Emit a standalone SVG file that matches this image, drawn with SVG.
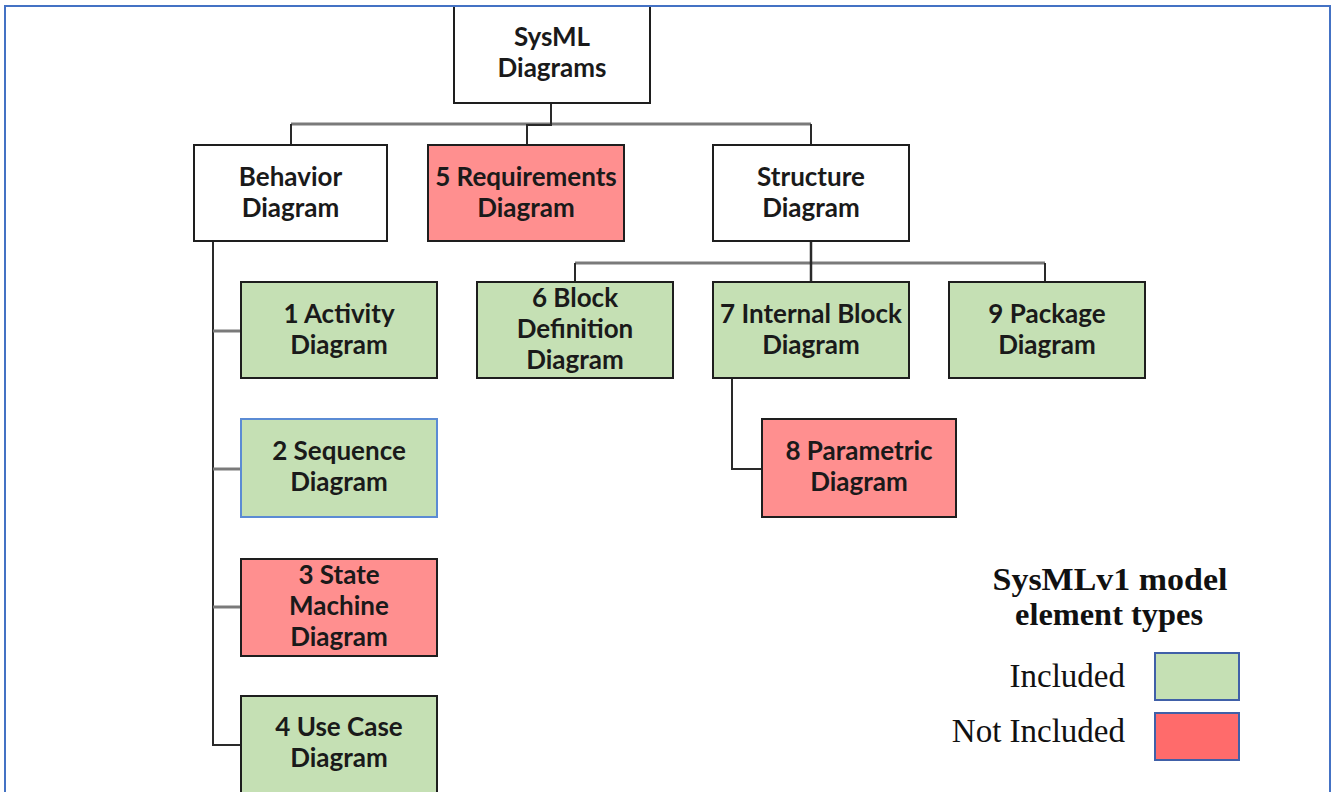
<svg xmlns="http://www.w3.org/2000/svg" width="1332" height="792" viewBox="0 0 1332 792">
<defs>
<style>
.box{stroke:#1e1e1e;stroke-width:2}
.white{fill:#ffffff}
.green{fill:#C5E0B4}
.red{fill:#FF8F8F}
.lbl{font-family:Lato,"Liberation Sans",sans-serif;font-weight:bold;font-size:26px;fill:#1a1a1a;text-anchor:middle}
.dark{fill:none;stroke:#2a2a2a;stroke-width:2}
.gray{fill:none;stroke:#7a7a7a;stroke-width:3}
.legt{font-family:"Liberation Serif","Times New Roman",serif;font-weight:bold;font-size:31px;fill:#111;text-anchor:middle}
.legl{font-family:"Liberation Serif","Times New Roman",serif;font-size:33px;fill:#111;text-anchor:end}
</style>
<clipPath id="titleClip"><rect x="900" y="540" width="400" height="92"/></clipPath>
</defs>
<rect x="0" y="0" width="1332" height="792" fill="#ffffff"/>

<g id="connectors">
<path class="gray" d="M291,124 H811"/>
<path class="dark" d="M291,124 V145"/>
<path class="dark" d="M811,124 V145"/>
<path class="dark" d="M551,103 V125 H527 V145"/>
<path class="gray" d="M575,263 H1045"/>
<path class="dark" d="M575,263 V282"/>
<path class="dark" d="M1045,263 V282"/>
<path class="dark" d="M811,241 V282" style="stroke-width:2.5"/>
<path class="dark" d="M213,241 V745 H241"/>
<path class="gray" d="M213,331 H241"/>
<path class="gray" d="M213,469 H241"/>
<path class="gray" d="M213,607 H241"/>
<path class="dark" d="M732,378 V469 H762"/>
</g>

<g id="sysml">
<rect class="box white" x="454" y="6" width="196" height="97"/>
<text class="lbl" x="552" y="46">SysML</text>
<text class="lbl" x="552" y="77">Diagrams</text>
</g>

<g id="behavior">
<rect class="box white" x="194" y="145" width="193" height="96"/>
<text class="lbl" x="290.5" y="186">Behavior</text>
<text class="lbl" x="290.5" y="217">Diagram</text>
</g>

<g id="requirements">
<rect class="box red" x="428" y="145" width="196" height="96"/>
<text class="lbl" x="526" y="186">5 Requirements</text>
<text class="lbl" x="526" y="217">Diagram</text>
</g>

<g id="structure">
<rect class="box white" x="713" y="145" width="196" height="96"/>
<text class="lbl" x="811" y="186">Structure</text>
<text class="lbl" x="811" y="217">Diagram</text>
</g>

<g id="activity">
<rect class="box green" x="241" y="282" width="196" height="96"/>
<text class="lbl" x="339" y="323">1 Activity</text>
<text class="lbl" x="339" y="354">Diagram</text>
</g>

<g id="block">
<rect class="box green" x="477" y="282" width="196" height="96"/>
<text class="lbl" x="575" y="307">6 Block</text>
<text class="lbl" x="575" y="338">Definition</text>
<text class="lbl" x="575" y="369">Diagram</text>
</g>

<g id="internal">
<rect class="box green" x="713" y="282" width="196" height="96"/>
<text class="lbl" x="811" y="323">7 Internal Block</text>
<text class="lbl" x="811" y="354">Diagram</text>
</g>

<g id="package">
<rect class="box green" x="949" y="282" width="196" height="96"/>
<text class="lbl" x="1047" y="323">9 Package</text>
<text class="lbl" x="1047" y="354">Diagram</text>
</g>

<g id="sequence">
<rect class="green" x="241" y="419" width="196" height="98" style="stroke:#5B8BD4;stroke-width:2"/>
<text class="lbl" x="339" y="460">2 Sequence</text>
<text class="lbl" x="339" y="491">Diagram</text>
</g>

<g id="parametric">
<rect class="box red" x="762" y="419" width="194" height="98"/>
<text class="lbl" x="859" y="460">8 Parametric</text>
<text class="lbl" x="859" y="491">Diagram</text>
</g>

<g id="statemachine">
<rect class="box red" x="241" y="559" width="196" height="97"/>
<text class="lbl" x="339" y="584">3 State</text>
<text class="lbl" x="339" y="615">Machine</text>
<text class="lbl" x="339" y="646">Diagram</text>
</g>

<g id="usecase">
<rect class="box green" x="241" y="696" width="196" height="110"/>
<text class="lbl" x="339" y="736">4 Use Case</text>
<text class="lbl" x="339" y="767">Diagram</text>
</g>

<g id="legend">
<g clip-path="url(#titleClip)">
<text class="legt" x="1110" y="590" textLength="235" lengthAdjust="spacingAndGlyphs">SysMLv1 model</text>
<text class="legt" x="1109" y="625" textLength="188" lengthAdjust="spacingAndGlyphs">element types</text>
</g>
<text class="legl" x="1125" y="687">Included</text>
<text class="legl" x="1125" y="742">Not Included</text>
<rect x="1155" y="653" width="84" height="47" fill="#C5E0B4" stroke="#4060A8" stroke-width="2"/>
<rect x="1155" y="713" width="84" height="47" fill="#FF6B6B" stroke="#4060A8" stroke-width="2"/>
</g>

<rect x="5" y="6" width="1325" height="800" fill="none" stroke="#4472C4" stroke-width="2"/>
</svg>
